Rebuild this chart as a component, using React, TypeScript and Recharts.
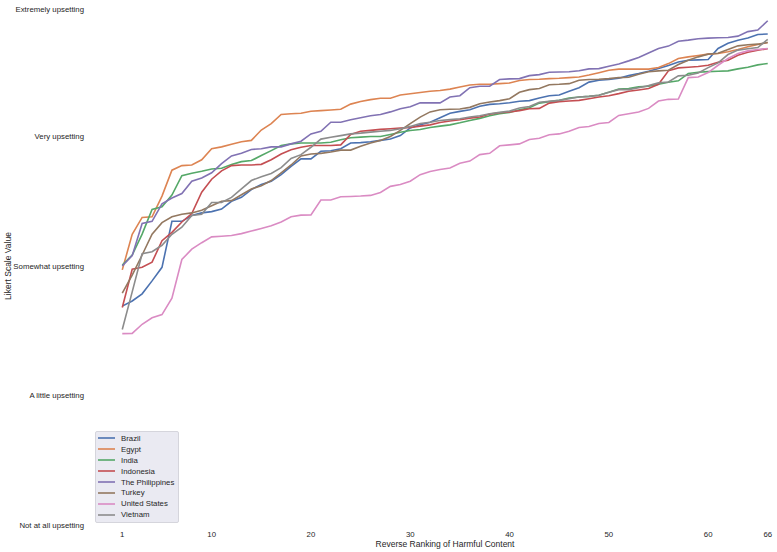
import { LineChart, Line, XAxis, YAxis, Legend } from "recharts";

// Mean Likert score per harmful-content item, sorted ascending (rank 1 = least upsetting)
const BRAZIL = [
  2.69, 2.73, 2.785, 2.885, 2.99, 3.345, 3.345, 3.39, 3.41, 3.42, 3.44, 3.5, 3.53, 3.59, 3.63, 3.655,
  3.705, 3.77, 3.827, 3.827, 3.886, 3.89, 3.905, 3.95, 3.953, 3.96, 3.97, 3.98, 4.007, 4.066, 4.09,
  4.11, 4.145, 4.18, 4.194, 4.207, 4.233, 4.248, 4.253, 4.26, 4.272, 4.277, 4.297, 4.315, 4.32, 4.349,
  4.377, 4.42, 4.434, 4.44, 4.45, 4.47, 4.486, 4.504, 4.525, 4.548, 4.576, 4.589, 4.592, 4.594, 4.68,
  4.72, 4.744, 4.76, 4.788, 4.791,
];
const EGYPT = [
  2.97, 3.245, 3.375, 3.38, 3.54, 3.74, 3.775, 3.78, 3.82, 3.905, 3.92, 3.94, 3.96, 3.97, 4.05, 4.1,
  4.17, 4.176, 4.18, 4.195, 4.2, 4.205, 4.21, 4.25, 4.27, 4.285, 4.295, 4.295, 4.32, 4.33, 4.34, 4.35,
  4.355, 4.366, 4.382, 4.398, 4.403, 4.403, 4.408, 4.413, 4.432, 4.44, 4.442, 4.447, 4.45, 4.455, 4.46,
  4.475, 4.493, 4.512, 4.52, 4.52, 4.52, 4.52, 4.533, 4.563, 4.602, 4.615, 4.625, 4.636, 4.641, 4.654,
  4.672, 4.693, 4.71, 4.726,
];
const INDIA = [
  3.008, 3.085, 3.246, 3.437, 3.457, 3.548, 3.698, 3.716, 3.731, 3.749, 3.755, 3.783, 3.806, 3.814,
  3.853, 3.891, 3.93, 3.943, 3.95, 3.95, 3.95, 3.956, 3.975, 3.99, 3.995, 4.0, 4.0, 4.016, 4.033, 4.046,
  4.054, 4.07, 4.08, 4.09, 4.106, 4.124, 4.14, 4.16, 4.176, 4.186, 4.207, 4.222, 4.258, 4.269, 4.279,
  4.297, 4.305, 4.31, 4.318, 4.341, 4.367, 4.37, 4.383, 4.388, 4.403, 4.419, 4.43, 4.486, 4.496, 4.501,
  4.504, 4.507, 4.522, 4.535, 4.553, 4.564,
];
const INDONESIA = [
  2.68, 2.975, 2.99, 3.03, 3.195, 3.26, 3.34, 3.405, 3.57, 3.67, 3.735, 3.775, 3.78, 3.78, 3.785, 3.82,
  3.865, 3.897, 3.917, 3.93, 3.93, 3.93, 3.935, 4.016, 4.04, 4.047, 4.055, 4.06, 4.065, 4.07, 4.08,
  4.09, 4.108, 4.12, 4.129, 4.142, 4.15, 4.173, 4.183, 4.189, 4.2, 4.214, 4.217, 4.258, 4.269, 4.274,
  4.279, 4.292, 4.305, 4.315, 4.331, 4.349, 4.359, 4.37, 4.403, 4.507, 4.53, 4.535, 4.54, 4.55, 4.574,
  4.589, 4.628, 4.651, 4.667, 4.677,
];
const PHILIPPINES = [
  3.0, 3.08, 3.328, 3.345, 3.48, 3.525, 3.56, 3.655, 3.68, 3.72, 3.79, 3.85, 3.87, 3.9, 3.905, 3.92,
  3.92, 3.943, 3.964, 4.02, 4.04, 4.11, 4.11, 4.13, 4.145, 4.16, 4.17, 4.19, 4.215, 4.23, 4.26, 4.26,
  4.26, 4.305, 4.315, 4.377, 4.388, 4.388, 4.44, 4.445, 4.447, 4.47, 4.478, 4.496, 4.498, 4.5, 4.508,
  4.522, 4.524, 4.542, 4.56, 4.584, 4.61, 4.645, 4.68, 4.698, 4.736, 4.744, 4.755, 4.76, 4.762, 4.765,
  4.775, 4.81, 4.822, 4.894,
];
const TURKEY = [
  2.79, 2.93, 3.085, 3.245, 3.335, 3.38, 3.4, 3.41, 3.43, 3.465, 3.5, 3.505, 3.55, 3.595, 3.62, 3.66,
  3.72, 3.78, 3.85, 3.865, 3.87, 3.88, 3.895, 3.895, 3.925, 3.95, 3.97, 4.0, 4.047, 4.1, 4.15, 4.19,
  4.207, 4.21, 4.212, 4.225, 4.253, 4.266, 4.277, 4.292, 4.341, 4.362, 4.37, 4.4, 4.403, 4.408, 4.434,
  4.44, 4.442, 4.447, 4.455, 4.458, 4.48, 4.5, 4.507, 4.512, 4.556, 4.589, 4.615, 4.636, 4.643, 4.672,
  4.7, 4.708, 4.713, 4.726,
];
const UNITED_STATES = [
  2.478, 2.48, 2.55, 2.6, 2.625, 2.752, 3.05, 3.13, 3.18, 3.225, 3.23, 3.235, 3.25, 3.27, 3.29, 3.31,
  3.34, 3.38, 3.393, 3.395, 3.51, 3.51, 3.535, 3.537, 3.54, 3.545, 3.568, 3.615, 3.63, 3.655, 3.705,
  3.73, 3.745, 3.757, 3.793, 3.81, 3.86, 3.87, 3.928, 3.935, 3.943, 3.977, 3.987, 4.013, 4.02, 4.04,
  4.07, 4.077, 4.1, 4.108, 4.163, 4.176, 4.189, 4.217, 4.274, 4.287, 4.289, 4.455, 4.46, 4.494, 4.55,
  4.602, 4.641, 4.661, 4.672, 4.68,
];
const VIETNAM = [
  2.51, 2.8, 3.095, 3.11, 3.16, 3.245, 3.3, 3.39, 3.4, 3.49, 3.49, 3.53, 3.595, 3.66, 3.69, 3.715, 3.76,
  3.83, 3.86, 3.917, 3.98, 3.994, 4.007, 4.02, 4.026, 4.034, 4.04, 4.047, 4.06, 4.078, 4.1, 4.11, 4.124,
  4.13, 4.137, 4.15, 4.16, 4.176, 4.186, 4.196, 4.22, 4.232, 4.264, 4.271, 4.279, 4.292, 4.305, 4.31,
  4.318, 4.341, 4.362, 4.362, 4.377, 4.393, 4.414, 4.421, 4.468, 4.473, 4.491, 4.532, 4.568, 4.633,
  4.667, 4.677, 4.687, 4.75,
];

const X_TICKS = [1, 10, 20, 30, 40, 50, 60, 66];
const Y_TICKS = [1, 2, 3, 4, 5];
const Y_TICK_LABELS = [
  "Not at all upsetting",
  "A little upsetting",
  "Somewhat upsetting",
  "Very upsetting",
  "Extremely upsetting",
];

// seaborn "deep" palette
const COUNTRIES = [
  { key: "Brazil", values: BRAZIL, color: "#4C72B0" },
  { key: "Egypt", values: EGYPT, color: "#DD8452" },
  { key: "India", values: INDIA, color: "#55A868" },
  { key: "Indonesia", values: INDONESIA, color: "#C44E52" },
  { key: "The Philippines", values: PHILIPPINES, color: "#8172B3" },
  { key: "Turkey", values: TURKEY, color: "#937860" },
  { key: "United States", values: UNITED_STATES, color: "#DA8BC3" },
  { key: "Vietnam", values: VIETNAM, color: "#8C8C8C" },
];

const FONT = '"Liberation Sans", Arial, sans-serif';
const TEXT = "#262626";
const PLOT_BOTTOM = 525;

const chartData = BRAZIL.map((_, i) => {
  const row: Record<string, number> = { rank: i + 1 };
  COUNTRIES.forEach((c) => {
    row[c.key] = c.values[i];
  });
  return row;
});

/* eslint-disable @typescript-eslint/no-explicit-any */
function YTick({ y, payload }: any) {
  return (
    <text
      x={84}
      y={y}
      textAnchor="end"
      dominantBaseline="central"
      fontSize={7.8}
      fontFamily={FONT}
      fill={TEXT}
    >
      {Y_TICK_LABELS[Y_TICKS.indexOf(payload.value)]}
    </text>
  );
}

function XTick({ x, payload }: any) {
  return (
    <text
      x={x}
      y={PLOT_BOTTOM + 9}
      textAnchor="middle"
      dominantBaseline="central"
      fontSize={7.8}
      fontFamily={FONT}
      fill={TEXT}
    >
      {payload.value}
    </text>
  );
}
/* eslint-enable @typescript-eslint/no-explicit-any */

function LegendBox() {
  return (
    <div
      style={{
        background: "#EAEAF2",
        border: "1px solid #d5d5dc",
        borderRadius: 2,
        padding: "1px 4px 2px 2px",
        fontFamily: FONT,
        fontSize: 7.8,
        color: TEXT,
      }}
    >
      {COUNTRIES.map((c) => (
        <div
          key={c.key}
          style={{ display: "flex", alignItems: "center", height: 10.9, whiteSpace: "nowrap" }}
        >
          <svg width={17} height={4} style={{ marginRight: 6, display: "block" }}>
            <line x1={0} y1={2} x2={17} y2={2} stroke={c.color} strokeWidth={1.6} />
          </svg>
          <span>{c.key}</span>
        </div>
      ))}
    </div>
  );
}

export default function App() {
  return (
    <div
      style={{
        position: "absolute",
        left: 0,
        top: 0,
        width: 777,
        height: 552,
        overflow: "hidden",
        background: "#ffffff",
      }}
    >
      <LineChart
        width={810}
        height={552}
        data={chartData}
        margin={{ top: 7, right: 10, bottom: 0, left: 0 }}
      >
        <XAxis
          dataKey="rank"
          type="number"
          domain={[-2.25, 69.25]}
          ticks={X_TICKS}
          allowDataOverflow
          axisLine={false}
          tickLine={false}
          height={27}
          tick={<XTick />}
          label={{
            value: "Reverse Ranking of Harmful Content",
            position: "insideBottom",
            offset: 5,
            fontSize: 8.5,
            fontFamily: FONT,
            fill: TEXT,
          }}
        />
        <YAxis
          type="number"
          domain={[1, 5]}
          ticks={Y_TICKS}
          allowDataOverflow
          axisLine={false}
          tickLine={false}
          width={90}
          tick={<YTick />}
          label={{
            value: "Likert Scale Value",
            angle: -90,
            position: "insideLeft",
            offset: 8,
            fontSize: 8.5,
            fontFamily: FONT,
            fill: TEXT,
            style: { textAnchor: "middle" },
          }}
        />
        <Legend
          layout="vertical"
          align="center"
          verticalAlign="middle"
          wrapperStyle={{ left: 95, top: 431, width: "auto" }}
          content={<LegendBox />}
        />
        {COUNTRIES.map((c) => (
          <Line
            key={c.key}
            dataKey={c.key}
            type="linear"
            stroke={c.color}
            strokeWidth={1.6}
            dot={false}
            activeDot={false}
            isAnimationActive={false}
          />
        ))}
      </LineChart>
    </div>
  );
}
